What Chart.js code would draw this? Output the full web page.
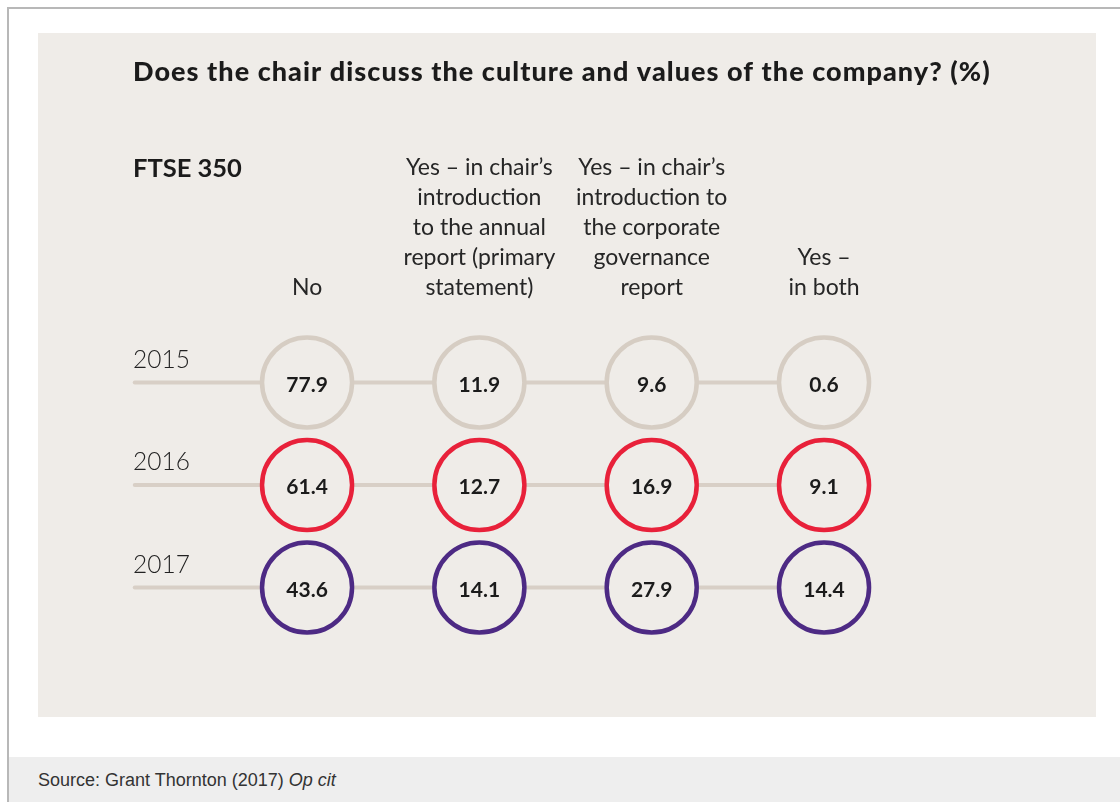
<!DOCTYPE html>
<html>
<head>
<meta charset="utf-8">
<script src="https://cdn.jsdelivr.net/npm/chart.js@4.4.1/dist/chart.umd.min.js"></script>
<style>
  html, body { margin: 0; padding: 0; background: #ffffff; }
  body { width: 1120px; height: 802px; position: relative; overflow: hidden; }
  #frame { position: absolute; left: 7px; top: 7px; right: -4px; bottom: -4px;
           border-top: 2px solid #b8b8b8; border-left: 2px solid #b8b8b8; }
  #panel { position: absolute; left: 38px; top: 33px; width: 1058px; height: 684px; background: #efece8; }
  #footer { position: absolute; left: 9px; top: 757px; right: 0; bottom: 0; background: #eeeeee; }
  #source { position: absolute; left: 38px; top: 771px; font-family: "Liberation Sans", Arial, sans-serif;
            font-size: 18px; line-height: 18px; color: #333333; white-space: nowrap; }
  #c { position: absolute; left: 0; top: 0; }
</style>
</head>
<body>
<div id="frame"></div>
<div id="panel"></div>
<div id="footer"></div>
<div id="source">Source: Grant Thornton (2017) <i>Op cit</i></div>
<canvas id="c" width="1120" height="802"></canvas>
<script>
// ---- data ----
const chartTitle = 'Does the chair discuss the culture and values of the company? (%)';
const groupLabel = 'FTSE 350';
const categories = [
  ['No'],
  ['Yes \u2013 in chair\u2019s', 'introduction', 'to the annual', 'report (primary', 'statement)'],
  ['Yes \u2013 in chair\u2019s', 'introduction to', 'the corporate', 'governance', 'report'],
  ['Yes \u2013', 'in both']
];
const years = ['2015', '2016', '2017'];
const values2015 = [77.9, 11.9, 9.6, 0.6];
const values2016 = [61.4, 12.7, 16.9, 9.1];
const values2017 = [43.6, 14.1, 27.9, 14.4];
const yearValues = [values2015, values2016, values2017];
const yearColors = ['#d6cdc3', '#e8213a', '#4d2a84'];

// ---- styles ----
const panelColor = '#efece8';
const connectorColor = '#d8cfc6';
const X_MIN = -1.01, X_MAX = 4.02;

const datasets = [];
years.forEach((yr, r) => {
  datasets.push({
    label: yr + ' line',
    data: [{x: -1.0, y: r}, {x: categories.length - 1, y: r}],
    showLine: true,
    borderColor: connectorColor,
    borderWidth: 4,
    borderCapStyle: 'round',
    pointRadius: 0,
    pointHoverRadius: 0,
    clip: false,
    order: 2
  });
  datasets.push({
    label: yr,
    data: yearValues[r].map((v, i) => ({x: i, y: r, v: v})),
    showLine: false,
    pointRadius: 45,
    pointHoverRadius: 45,
    pointBorderWidth: 4.5,
    pointHoverBorderWidth: 4.5,
    pointBorderColor: yearColors[r],
    pointBackgroundColor: panelColor,
    clip: false,
    order: 1
  });
});

const textPlugin = {
  id: 'texts',
  afterDatasetsDraw(chart) {
    const ctx = chart.ctx;
    const xs = chart.scales.x, ys = chart.scales.y;
    ctx.save();
    // title
    ctx.fillStyle = '#1b1b1b';
    ctx.textAlign = 'left';
    ctx.textBaseline = 'alphabetic';
    ctx.font = '900 27px Lato';
    if ('letterSpacing' in ctx) ctx.letterSpacing = '1.05px';
    ctx.fillText(chartTitle, 133, 81);
    if ('letterSpacing' in ctx) ctx.letterSpacing = '0px';
    ctx.font = '700 25.5px Lato';
    ctx.fillText(groupLabel, 133, 177);
    // column headers
    ctx.font = '400 23px Lato';
    ctx.fillStyle = '#262626';
    ctx.textAlign = 'center';
    categories.forEach((lines, i) => {
      const x = xs.getPixelForValue(i);
      const n = lines.length;
      lines.forEach((ln, k) => {
        ctx.fillText(ln, x, 294.5 - (n - 1 - k) * 30);
      });
    });
    // year labels
    ctx.textAlign = 'left';
    ctx.font = '300 24.5px Lato';
    ctx.fillStyle = '#222222';
    years.forEach((yr, r) => {
      ctx.fillText(yr, 133, ys.getPixelForValue(r) - 15);
    });
    // values
    ctx.textAlign = 'center';
    ctx.font = '700 21px Lato';
    ctx.fillStyle = '#1b1b1b';
    yearValues.forEach((vals, r) => {
      vals.forEach((v, i) => {
        ctx.fillText(v.toFixed(1), xs.getPixelForValue(i), ys.getPixelForValue(r) + 9);
      });
    });
    ctx.restore();
  }
};

new Chart(document.getElementById('c'), {
  type: 'scatter',
  data: { datasets },
  options: {
    responsive: false,
    animation: false,
    devicePixelRatio: 1,
    layout: { padding: { left: 133, right: 120.2, top: 331.25, bottom: 163.25 } },
    scales: {
      x: { type: 'linear', min: X_MIN, max: X_MAX, display: false },
      y: { type: 'linear', min: -0.5, max: 2.5, reverse: true, display: false }
    },
    plugins: { legend: { display: false }, tooltip: { enabled: false }, title: { display: false } },
    events: []
  },
  plugins: [textPlugin]
});
</script>
</body>
</html>
